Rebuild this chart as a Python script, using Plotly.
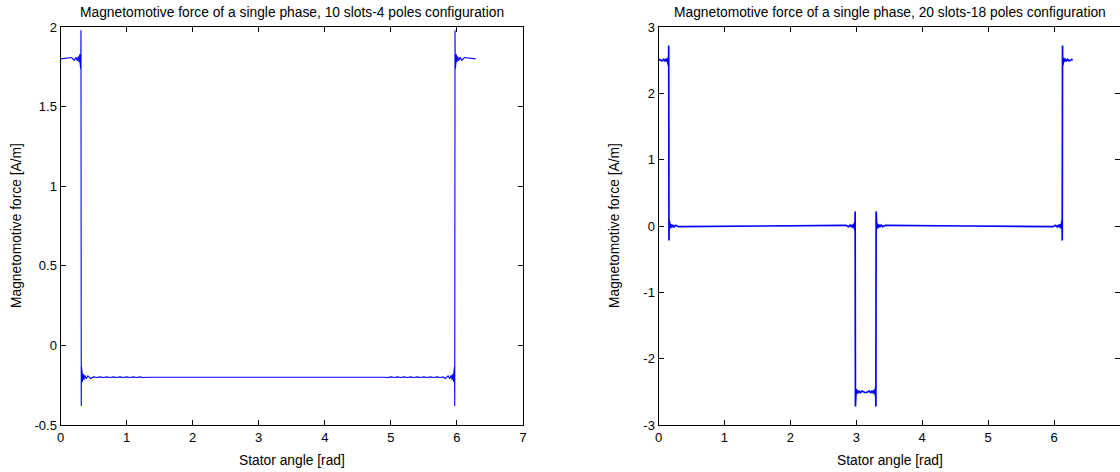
import plotly.graph_objects as go

# ---------------- data ----------------
# Left panel: 10 slots - 4 poles
left_angle = [
    0.000, 0.169, 0.209, 0.234, 0.254, 0.270, 0.282, 0.291, 0.298, 0.303, 0.307, 0.310,
    0.314, 0.317, 0.321, 0.326, 0.333, 0.342, 0.354, 0.370, 0.390, 0.415, 0.455,
    0.50, 0.55, 0.60, 0.65, 0.70, 0.75, 0.80, 0.85, 0.90, 0.95, 1.00, 1.05, 1.10, 1.15,
    1.20, 1.25, 1.30, 1.35,
    4.90, 4.95, 5.00, 5.05, 5.10, 5.15, 5.20, 5.25, 5.30, 5.35, 5.40, 5.45, 5.50, 5.55,
    5.60, 5.65, 5.70, 5.75, 5.79,
    5.826, 5.866, 5.891, 5.911, 5.927, 5.939, 5.948, 5.955, 5.960, 5.964, 5.967,
    5.971, 5.974, 5.978, 5.983, 5.990, 5.999, 6.011, 6.027, 6.047, 6.072, 6.112, 6.283,
]
left_mmf = [
    1.800, 1.808, 1.791, 1.810, 1.787, 1.816, 1.779, 1.828, 1.764, 1.850, 1.735, 1.980,
    -0.380, -0.135, -0.250, -0.164, -0.228, -0.179, -0.216, -0.187, -0.210, -0.191, -0.208,
    -0.198, -0.202, -0.198, -0.202, -0.198, -0.202, -0.198, -0.202, -0.198, -0.202, -0.198,
    -0.202, -0.198, -0.202,
    -0.198, -0.202, -0.199, -0.200,
    -0.200, -0.202, -0.198, -0.202, -0.198, -0.202, -0.198, -0.202, -0.198, -0.202, -0.198,
    -0.202, -0.198, -0.202,
    -0.198, -0.202, -0.198, -0.202, -0.198,
    -0.208, -0.191, -0.210, -0.187, -0.216, -0.179, -0.228, -0.164, -0.250, -0.135, -0.380,
    1.980, 1.735, 1.850, 1.764, 1.828, 1.779, 1.816, 1.787, 1.810, 1.791, 1.808, 1.800,
]

# Right panel: 20 slots - 18 poles
right_angle = [
    0.000, 0.014, 0.054, 0.079, 0.099, 0.115, 0.127, 0.136, 0.143, 0.148, 0.152, 0.155,
    0.159, 0.162, 0.166, 0.171, 0.178, 0.187, 0.199, 0.215, 0.235, 0.260, 0.300,
    1.50, 2.78,
    2.842, 2.882, 2.907, 2.927, 2.943, 2.955, 2.964, 2.971, 2.976, 2.980, 2.983,
    2.987, 2.990, 2.994, 2.999, 3.006, 3.015, 3.027, 3.043, 3.063, 3.088, 3.128,
    3.156, 3.196, 3.221, 3.241, 3.257, 3.269, 3.278, 3.285, 3.290, 3.294, 3.297,
    3.301, 3.304, 3.308, 3.313, 3.320, 3.329, 3.341, 3.357, 3.377, 3.402, 3.442,
    4.70, 5.92,
    5.983, 6.023, 6.048, 6.068, 6.084, 6.096, 6.105, 6.112, 6.117, 6.121, 6.124,
    6.128, 6.131, 6.135, 6.140, 6.147, 6.156, 6.168, 6.184, 6.204, 6.229, 6.269, 6.283,
]
right_mmf = [
    2.500, 2.510, 2.489, 2.513, 2.484, 2.520, 2.474, 2.535, 2.455, 2.560, 2.420, 2.720,
    -0.220, 0.080, -0.060, 0.045, -0.035, 0.026, -0.020, 0.016, -0.013, 0.011, -0.010,
    0.000, 0.000,
    0.010, -0.011, 0.013, -0.016, 0.020, -0.026, 0.035, -0.045, 0.060, -0.080, 0.220,
    -2.720, -2.420, -2.560, -2.455, -2.535, -2.474, -2.520, -2.484, -2.513, -2.489, -2.510,
    -2.510, -2.489, -2.513, -2.484, -2.520, -2.474, -2.535, -2.455, -2.560, -2.420, -2.720,
    0.220, -0.080, 0.060, -0.045, 0.035, -0.026, 0.020, -0.016, 0.013, -0.011, 0.010,
    0.000, 0.000,
    -0.010, 0.011, -0.013, 0.016, -0.020, 0.026, -0.035, 0.045, -0.060, 0.080, -0.220,
    2.720, 2.420, 2.560, 2.455, 2.535, 2.474, 2.520, 2.484, 2.513, 2.489, 2.510, 2.500,
]

x_ticks = [0, 1, 2, 3, 4, 5, 6, 7]
x_tick_text = ["0", "1", "2", "3", "4", "5", "6", "7"]
left_y_ticks = [-0.5, 0, 0.5, 1, 1.5, 2]
left_y_tick_text = ["-0.5", "0", "0.5", "1", "1.5", "2"]
right_y_ticks = [-3, -2, -1, 0, 1, 2, 3]
right_y_tick_text = ["-3", "-2", "-1", "0", "1", "2", "3"]

titles = [
    "Magnetomotive force of a single phase, 10 slots-4 poles configuration",
    "Magnetomotive force of a single phase, 20 slots-18 poles configuration",
]
x_label = "Stator angle [rad]"
y_label = "Magnetomotive force [A/m]"

# ---------------- figure ----------------
W, H = 1120, 472
FONT = "Liberation Sans, Arial, Helvetica, sans-serif"
TXT = 13.8
TICK = 13
top_px, bot_px = 27, 425
L0, L1 = 60.5, 523.0
R0, R1 = 658.5, 1120.0

fig = go.Figure()
fig.add_trace(go.Scatter(x=left_angle, y=left_mmf, mode="lines",
                         line=dict(color="#0000ff", width=1.1), xaxis="x", yaxis="y",
                         hoverinfo="skip"))
fig.add_trace(go.Scatter(x=right_angle, y=right_mmf, mode="lines",
                         line=dict(color="#0000ff", width=1.7), xaxis="x2", yaxis="y2",
                         hoverinfo="skip"))

common = dict(showline=True, linecolor="black", linewidth=1, mirror="ticks",
              ticks="inside", ticklen=5, tickcolor="black", tickwidth=1,
              showgrid=False, zeroline=False,
              tickfont=dict(family=FONT, size=TICK, color="black"))

ydom = [1 - bot_px / H, 1 - top_px / H]
fig.update_layout(
    width=W, height=H,
    margin=dict(l=0, r=0, t=0, b=0, pad=0),
    paper_bgcolor="white", plot_bgcolor="white",
    showlegend=False,
    xaxis=dict(domain=[L0 / W, L1 / W], range=[0, 7], tickvals=x_ticks,
               ticktext=x_tick_text, anchor="y", automargin=False, **common),
    yaxis=dict(domain=ydom, range=[-0.5, 2], tickvals=left_y_ticks,
               ticktext=left_y_tick_text, anchor="x", automargin=False, **common),
    xaxis2=dict(domain=[R0 / W, R1 / W], range=[0, 7], tickvals=x_ticks,
                ticktext=x_tick_text, anchor="y2", automargin=False, **common),
    yaxis2=dict(domain=ydom, range=[-3, 3], tickvals=right_y_ticks,
                ticktext=right_y_tick_text, anchor="x2", automargin=False, **common),
)

ann = []
for (a, b), t in zip([(L0, L1), (R0, R1 + 2)], titles):
    ann.append(dict(text=t, x=(a + b) / 2 / W, y=1 - 12 / H, xref="paper", yref="paper",
                    xanchor="center", yanchor="middle", showarrow=False,
                    font=dict(family=FONT, size=TXT, color="black")))
    ann.append(dict(text=x_label, x=(a + b) / 2 / W, y=1 - 460 / H, xref="paper",
                    yref="paper", xanchor="center", yanchor="middle", showarrow=False,
                    font=dict(family=FONT, size=TXT, color="black")))
for xc in (16, 614):
    ann.append(dict(text=y_label, x=xc / W, y=1 - (top_px + bot_px) / 2 / H,
                    xref="paper", yref="paper", xanchor="center", yanchor="middle",
                    textangle=-90, showarrow=False,
                    font=dict(family=FONT, size=TXT, color="black")))
fig.update_layout(annotations=ann)

fig.write_html(
    "out.html",
    config={"displayModeBar": False},
    post_script="document.body.style.margin='0px';document.body.style.overflow='hidden';",
)
